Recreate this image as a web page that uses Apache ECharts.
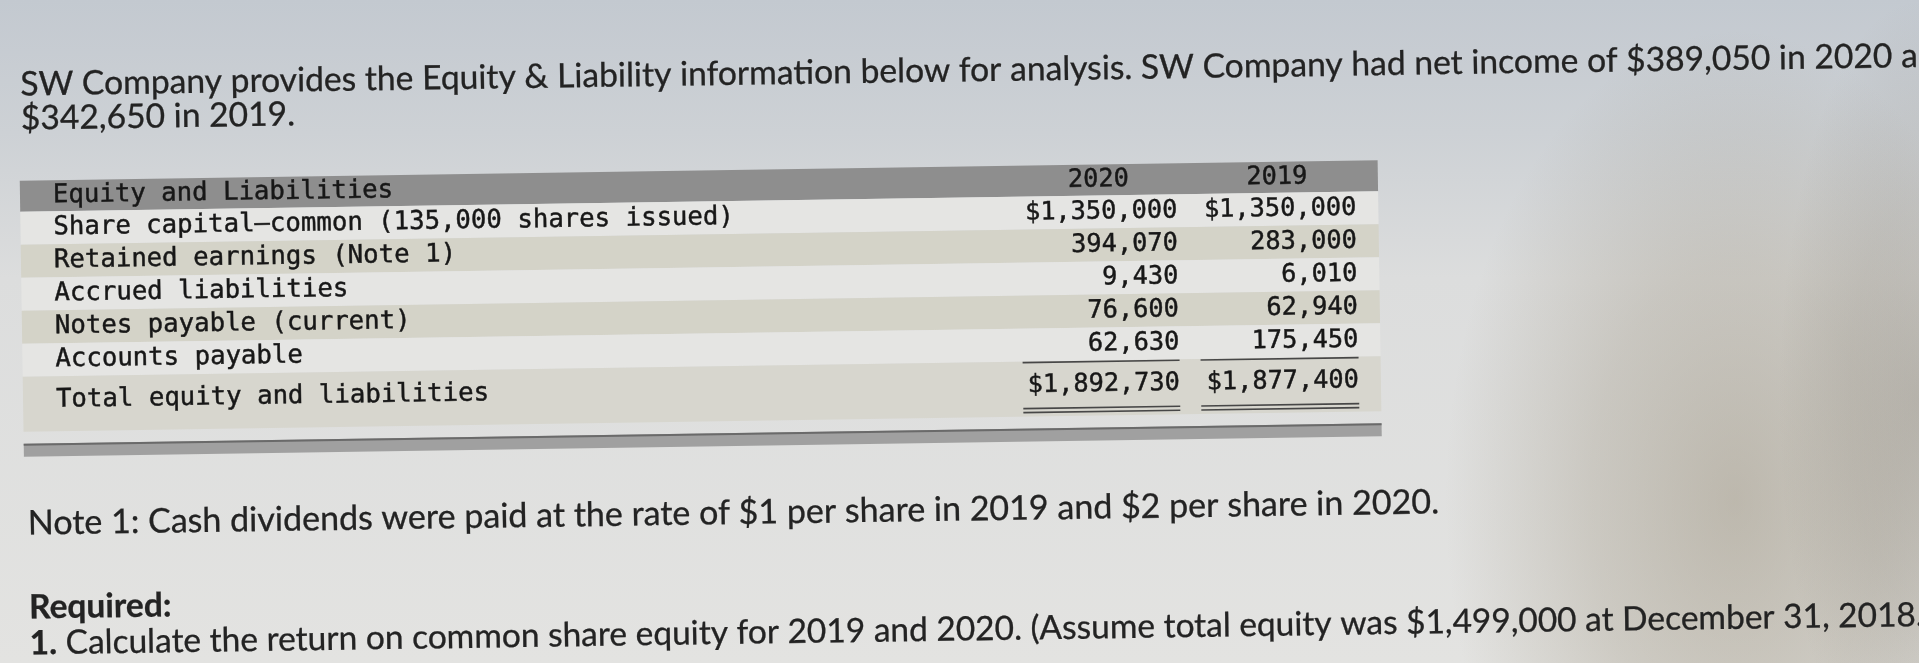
<!DOCTYPE html>
<html lang="en">
<head>
<meta charset="utf-8">
<title>SW Company – Equity &amp; Liabilities</title>
<script src="https://cdn.jsdelivr.net/npm/echarts@6.0.0/dist/echarts.min.js"></script>
<style>
  html, body { margin: 0; padding: 0; overflow: hidden; background: #d9dadb; }
  #chart { width: 1919px; height: 663px; }
</style>
</head>
<body>
<div id="chart"></div>
<script>
// ---- values ----
const introLines = [
  "SW Company provides the Equity & Liability information below for analysis. SW Company had net income of $389,050 in 2020 and",
  "$342,650 in 2019.",
];
const headerLabel = "Equity and Liabilities";
const yearLabels = ["2020", "2019"];
const rowLabels = [
  "Share capital—common (135,000 shares issued)",
  "Retained earnings (Note 1)",
  "Accrued liabilities",
  "Notes payable (current)",
  "Accounts payable",
];
const values2020 = [1350000, 394070, 9430, 76600, 62630];
const values2019 = [1350000, 283000, 6010, 62940, 175450];
const totalLabel = "Total equity and liabilities";
const noteText = "Note 1: Cash dividends were paid at the rate of $1 per share in 2019 and $2 per share in 2020.";
const requiredLabel = "Required:";
const questionNumber = "1.";
const questionText = "Calculate the return on common share equity for 2019 and 2020. (Assume total equity was $1,499,000 at December 31, 2018.)";

// ---- layout ----
const TILT = 0.015; // the photo is turned a little, right side up
const PIVOT_Y = 330;
const MONO = "'DejaVu Sans Mono', 'Liberation Mono', monospace";
const SANS = "Lato, 'Open Sans', sans-serif";
const INK = "#171717";
const PROSE_INK = "#232323";

const table = {
  left: 22,
  right: 1380,
  labelX: 55,
  columns: [
    { from: 1022, to: 1179 },
    { from: 1200, to: 1358 },
  ],
  headerTop: 181,
  headerHeight: 31,
  rowHeight: 33,
  totalHeight: 55,
  totalTextOffset: 24,
  barGap: 12,
  barHeight: 13,
  labelSize: 25.7,
  valueSize: 25.3,
};

const sum = (list) => list.reduce((acc, v) => acc + v, 0);
const money = (v, withSign) => (withSign ? "$" : "") + v.toLocaleString("en-US");

const bodyTop = table.headerTop + table.headerHeight;
const totalTop = bodyTop + rowLabels.length * table.rowHeight;
const barTop = totalTop + table.totalHeight + table.barGap;

const tableRows = [
  {
    kind: "header",
    top: table.headerTop,
    height: table.headerHeight,
    textY: table.headerTop + table.headerHeight / 2,
    label: headerLabel,
    cells: yearLabels,
    fill: "#8e8e8e",
  },
  ...rowLabels.map((label, i) => ({
    kind: "body",
    top: bodyTop + i * table.rowHeight,
    height: table.rowHeight,
    textY: bodyTop + i * table.rowHeight + table.rowHeight / 2,
    label,
    cells: [money(values2020[i], i === 0), money(values2019[i], i === 0)],
    fill: i % 2 === 0 ? "#e5e5e3" : "#d4d3c8",
  })),
  {
    kind: "total",
    top: totalTop,
    height: table.totalHeight,
    textY: totalTop + table.totalTextOffset,
    label: totalLabel,
    cells: [money(sum(values2020), true), money(sum(values2019), true)],
    fill: "#d7d6ce",
    lines: [1, 47, 51],
  },
  { kind: "bar", top: barTop, height: table.barHeight, fill: "#a0a0a0" },
];

const textEl = (text, x, y, align, size, family, extra) => ({
  type: "text",
  z2: 10,
  style: Object.assign({
    text,
    x,
    y,
    align,
    textAlign: align,
    verticalAlign: "middle",
    textVerticalAlign: "middle",
    fontSize: size,
    fontFamily: family,
    fill: INK,
  }, extra || {}),
});

const renderTableRow = (params) => {
  const row = tableRows[params.dataIndex];
  const width = table.right - table.left;
  const children = [
    {
      type: "rect",
      shape: { x: table.left, y: row.top, width, height: row.height },
      style: { fill: row.fill },
    },
  ];

  if (row.kind === "bar") {
    children.push({
      type: "line",
      shape: { x1: table.left, y1: row.top + 1, x2: table.right, y2: row.top + 1 },
      style: { stroke: "#6a6a6a", lineWidth: 2 },
    });
  } else {
    const inked = { stroke: INK, lineWidth: 0.45 };
    children.push(textEl(row.label, table.labelX, row.textY, "left", table.labelSize, MONO, inked));
    table.columns.forEach((col, c) => {
      if (row.kind === "header") {
        children.push(textEl(row.cells[c], (col.from + col.to) / 2, row.textY, "center", table.valueSize, MONO, inked));
      } else {
        children.push(textEl(row.cells[c], col.to, row.textY, "right", table.valueSize, MONO, inked));
      }
      (row.lines || []).forEach((dy) => {
        children.push({
          type: "line",
          z2: 10,
          shape: { x1: col.from, y1: row.top + dy, x2: col.to, y2: row.top + dy },
          style: { stroke: "#474747", lineWidth: 1.6 },
        });
      });
    });
  }

  return { type: "group", rotation: TILT, originX: 0, originY: PIVOT_Y, children };
};

// ---- prose sizes fitted to the widths measured on the photo ----
const measureCtx = document.createElement("canvas").getContext("2d");
const textWidth = (text, size, weight) => {
  measureCtx.font = `${weight || "normal"} ${size}px ${SANS}`;
  return measureCtx.measureText(text).width;
};
const introSize = 100 * 1873 / textWidth(introLines[0].replace(/ and$/, ""), 100);
const noteSize = 100 * 1412 / textWidth(noteText, 100);
const questionSize = 100 * 1887 / (
  textWidth(questionNumber, 100, "bold") + textWidth(" " + questionText.replace(/\.\)$/, ""), 100)
);

const proseStyle = { fill: PROSE_INK, stroke: PROSE_INK, lineWidth: 0.3 };
const prose = [
  textEl(introLines[0], 24, 85, "left", introSize, SANS, proseStyle),
  textEl(introLines[1], 24, 119, "left", introSize, SANS, proseStyle),
  textEl(noteText, 25, 524, "left", noteSize, SANS, proseStyle),
  textEl(requiredLabel, 25, 608, "left", questionSize, SANS, Object.assign({ fontWeight: "bold" }, proseStyle)),
  textEl(`{num|${questionNumber}} ${questionText}`, 25, 644, "left", questionSize, SANS, Object.assign({
    rich: {
      num: { fontWeight: "bold", fontSize: questionSize, fontFamily: SANS, fill: PROSE_INK },
    },
  }, proseStyle)),
];

// soft elliptical shadow: a unit circle with a radial fill, stretched
const shadowSpot = (x, y, rx, ry, rgb, alpha) => ({
  type: "circle",
  z: 0,
  silent: true,
  x,
  y,
  scaleX: rx / 100,
  scaleY: ry / 100,
  shape: { cx: 0, cy: 0, r: 100 },
  style: {
    fill: new echarts.graphic.RadialGradient(0.5, 0.5, 0.5, [
      { offset: 0, color: `rgba(${rgb}, ${alpha})` },
      { offset: 0.5, color: `rgba(${rgb}, ${alpha * 0.6})` },
      { offset: 1, color: `rgba(${rgb}, 0)` },
    ]),
  },
});

const chart = echarts.init(document.getElementById("chart"));

chart.setOption({
  animation: false,
  backgroundColor: "#d9dadb",
  graphic: [
    {
      type: "rect",
      z: 0,
      silent: true,
      shape: { x: 0, y: 0, width: 1919, height: 663 },
      style: {
        fill: new echarts.graphic.LinearGradient(0, 0, 0, 1, [
          { offset: 0, color: "#c3c9d0" },
          { offset: 0.2, color: "#cdd1d5" },
          { offset: 0.42, color: "#dcdddd" },
          { offset: 1, color: "#e3e3e1" },
        ]),
      },
    },
    shadowSpot(1735, 500, 290, 470, "140, 128, 104", 0.42),
    shadowSpot(1919, 400, 140, 400, "120, 112, 98", 0.3),
    {
      type: "group",
      z: 1,
      rotation: TILT,
      originX: 0,
      originY: PIVOT_Y,
      children: prose,
    },
  ],
  series: [
    {
      type: "custom",
      coordinateSystem: "none",
      silent: true,
      data: tableRows.map((row, i) => [i]),
      renderItem: renderTableRow,
    },
  ],
});
</script>
</body>
</html>
